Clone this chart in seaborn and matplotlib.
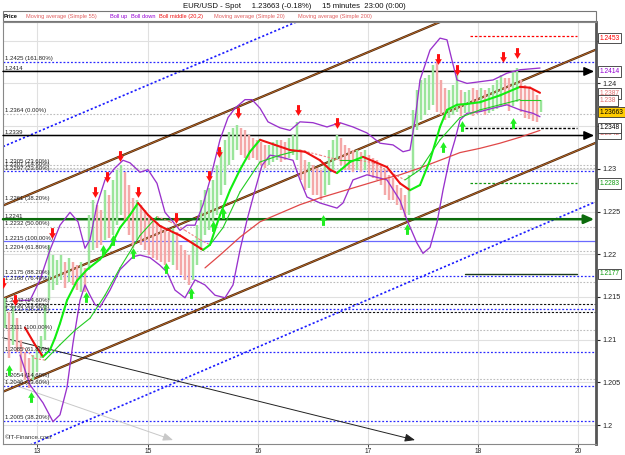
import matplotlib
matplotlib.use("Agg")
import matplotlib.pyplot as plt
import matplotlib.transforms as mtransforms
from matplotlib.path import Path
import seaborn as sns
import pandas as pd

sns.set_theme(style="white")
plt.rcParams['font.family'] = ['Liberation Sans', 'DejaVu Sans']

# ---------------- data (x = bar index, y = EUR/USD price) ----------------
candle_hi = [1.2149, 1.2132, 1.2139, 1.2125, 1.2100, 1.2085, 1.2078, 1.2082, 1.2094, 1.2104,
             1.2141, 1.2211, 1.2199, 1.2193, 1.2199, 1.2191, 1.2196, 1.2191, 1.2187, 1.2191,
             1.2184, 1.2246, 1.2263, 1.2258, 1.2252, 1.2275, 1.2269, 1.2287, 1.2299, 1.2304,
             1.2296, 1.2281, 1.2266, 1.2263, 1.2258, 1.2252, 1.2246, 1.2240, 1.2238, 1.2234,
             1.2231, 1.2226, 1.2231, 1.2226, 1.2211, 1.2205, 1.2199, 1.2217, 1.2234, 1.2263,
             1.2275, 1.2278, 1.2287, 1.2304, 1.2322, 1.2334, 1.2343, 1.2348, 1.2351, 1.2348,
             1.2345, 1.2340, 1.2336, 1.2334, 1.2331, 1.2328, 1.2328, 1.2331, 1.2334, 1.2334,
             1.2331, 1.2336, 1.2340, 1.2355, 1.2322, 1.2310, 1.2308, 1.2304, 1.2301, 1.2299,
             1.2304, 1.2322, 1.2334, 1.2340, 1.2336, 1.2328, 1.2324, 1.2322, 1.2322, 1.2320,
             1.2322, 1.2316, 1.2313, 1.2310, 1.2304, 1.2299, 1.2293, 1.2289, 1.2281, 1.2278,
             1.2269, 1.2293, 1.2369, 1.2392, 1.2404, 1.2406, 1.2410, 1.2422, 1.2425, 1.2404,
             1.2395, 1.2392, 1.2398, 1.2410, 1.2392, 1.2390, 1.2392, 1.2395, 1.2392, 1.2395,
             1.2392, 1.2395, 1.2398, 1.2404, 1.2410, 1.2406, 1.2406, 1.2413, 1.2418, 1.2404,
             1.2398, 1.2395, 1.2392, 1.2386, 1.2381]
candle_lo = [1.2114, 1.2078, 1.2094, 1.2085, 1.2062, 1.2053, 1.2043, 1.2053, 1.2062, 1.2078,
             1.2100, 1.2146, 1.2158, 1.2164, 1.2170, 1.2160, 1.2167, 1.2164, 1.2158, 1.2156,
             1.2156, 1.2182, 1.2205, 1.2207, 1.2211, 1.2217, 1.2219, 1.2222, 1.2234, 1.2246,
             1.2240, 1.2222, 1.2207, 1.2217, 1.2211, 1.2205, 1.2199, 1.2196, 1.2193, 1.2191,
             1.2187, 1.2191, 1.2187, 1.2182, 1.2176, 1.2170, 1.2164, 1.2170, 1.2187, 1.2205,
             1.2222, 1.2228, 1.2238, 1.2246, 1.2269, 1.2281, 1.2304, 1.2310, 1.2322, 1.2316,
             1.2313, 1.2310, 1.2313, 1.2310, 1.2304, 1.2301, 1.2304, 1.2308, 1.2310, 1.2308,
             1.2310, 1.2313, 1.2316, 1.2310, 1.2287, 1.2275, 1.2278, 1.2269, 1.2269, 1.2263,
             1.2269, 1.2281, 1.2299, 1.2310, 1.2304, 1.2299, 1.2299, 1.2296, 1.2299, 1.2296,
             1.2299, 1.2293, 1.2289, 1.2287, 1.2281, 1.2269, 1.2263, 1.2263, 1.2258, 1.2252,
             1.2244, 1.2246, 1.2293, 1.2345, 1.2357, 1.2363, 1.2369, 1.2375, 1.2367, 1.2363,
             1.2357, 1.2360, 1.2363, 1.2367, 1.2362, 1.2365, 1.2366, 1.2362, 1.2364, 1.2366,
             1.2363, 1.2365, 1.2368, 1.2370, 1.2372, 1.2374, 1.2368, 1.2374, 1.2378, 1.2366,
             1.2360, 1.2358, 1.2356, 1.2355, 1.2367]

# Bollinger middle (20) - thick, red when falling / green when rising
mid_x = [5, 7.5, 9.5, 11.25, 12.5, 13.75, 15.5, 18, 20.5, 23.75, 26.25, 28.75, 31.25, 33.25,
         35.75, 38.75, 43.75, 47.5, 49.5, 51.25, 53.75, 56.25, 58.75, 61.25, 63.75, 67.5, 71.25,
         75, 78.75, 81.25, 83, 86.25, 89.5, 92.5, 95.5, 98.75, 101.25, 103.75, 106.25, 108.75,
         110.5, 113, 115.5, 118.75, 123.75, 128.75, 131.25, 133.75]
mid_y = [1.2114, 1.2094, 1.2080, 1.2088, 1.2102, 1.2119, 1.2146, 1.2169, 1.2182, 1.2194, 1.2208,
         1.2231, 1.2246, 1.2260, 1.2246, 1.2233, 1.2222, 1.2211, 1.2205, 1.2211, 1.2246, 1.2275,
         1.2299, 1.2320, 1.2334, 1.2328, 1.2322, 1.2320, 1.2310, 1.2299, 1.2295, 1.2308, 1.2314,
         1.2308, 1.2302, 1.2283, 1.2275, 1.2281, 1.2310, 1.2349, 1.2369, 1.2375, 1.2376, 1.2378,
         1.2386, 1.2396, 1.2395, 1.2389]

# Bollinger up / down (20,2)
up_x = [3.75, 6.25, 8.75, 11.25, 13.75, 16.25, 18.25, 20, 21.25, 23, 25, 27.5, 29.5, 31.25,
        33.75, 35.75, 38, 40, 42, 43.75, 45.5, 47.5, 49.5, 51.25, 53.75, 55.75, 57.5, 60, 61.75,
        63.75, 65.75, 68.75, 71.25, 73.75, 77, 80.5, 83.75, 87, 90.5, 93.75, 97, 99.5, 101.25,
        102.5, 103.75, 106.25, 108.75, 110.5, 111.75, 113, 115.5, 118.75, 122, 125.5, 128.75, 133.75]
up_y = [1.2146, 1.2146, 1.2170, 1.2205, 1.2234, 1.2249, 1.2238, 1.2207, 1.2217, 1.2258, 1.2287,
        1.2301, 1.2310, 1.2307, 1.2296, 1.2299, 1.2283, 1.2249, 1.2238, 1.2228, 1.2234, 1.2234,
        1.2258, 1.2287, 1.2334, 1.2360, 1.2371, 1.2381, 1.2381, 1.2371, 1.2355, 1.2348, 1.2345,
        1.2355, 1.2354, 1.2349, 1.2354, 1.2349, 1.2342, 1.2330, 1.2328, 1.2320, 1.2322, 1.2357,
        1.2404, 1.2439, 1.2453, 1.2451, 1.2427, 1.2404, 1.2400, 1.2402, 1.2404, 1.2412, 1.2416,
        1.2418]
dn_x = [3.75, 6.25, 9.5, 12, 13.75, 15.5, 17, 18.75, 20, 21.25, 22.5, 23.75, 26.25, 28.75, 32,
        33.75, 36.25, 38.75, 40.5, 42.5, 45, 47.5, 50, 52.5, 55, 57, 58.75, 60.5, 62.5, 64.25,
        66.25, 68.75, 72, 73.75, 75.5, 78.75, 83, 84.5, 87, 90.5, 93, 95.5, 98.75, 100.5, 103,
        104.5, 106.25, 108, 109.5, 111.25, 112.5, 113.75, 115.5, 118.75, 122, 125.5, 128.75, 132,
        133.75]
dn_y = [1.2082, 1.2047, 1.2026, 1.2004, 1.2012, 1.2044, 1.2096, 1.2146, 1.2164, 1.2152, 1.2141,
        1.2138, 1.2158, 1.2182, 1.2197, 1.2199, 1.2196, 1.2187, 1.2179, 1.2158, 1.2149, 1.2170,
        1.2164, 1.2152, 1.2149, 1.2164, 1.2205, 1.2240, 1.2275, 1.2304, 1.2316, 1.2314, 1.2310,
        1.2287, 1.2267, 1.2260, 1.2254, 1.2260, 1.2287, 1.2293, 1.2290, 1.2287, 1.2263, 1.2240,
        1.2213, 1.2201, 1.2208, 1.2237, 1.2275, 1.2314, 1.2334, 1.2357, 1.2365, 1.2367, 1.2371,
        1.2375, 1.2369, 1.2365, 1.2361]

# Moving average (Simple 55) - thin, green rising / pink dashed falling
ma55_x = [3.75, 7.5, 10, 13.75, 17.5, 21.25, 25, 28.75, 33.75, 38, 41.25, 45, 48.75, 51.25, 54.5,
          58.75, 63.75, 68.75, 73.75, 78.75, 83.75, 88.75, 92, 96.25, 100, 103.75, 108.75, 113.75,
          118.75, 123.75, 128.75, 133.75]
ma55_y = [1.2094, 1.2078, 1.2076, 1.2094, 1.2111, 1.2125, 1.2152, 1.2184, 1.2222, 1.2244, 1.2238,
          1.2228, 1.2217, 1.2211, 1.2231, 1.2273, 1.2308, 1.2316, 1.2322, 1.2316, 1.2310, 1.2310,
          1.2307, 1.2296, 1.2287, 1.2299, 1.2334, 1.2360, 1.2369, 1.2375, 1.2381, 1.2381]

# Moving average (Simple 200)
ma200_x = [50, 53.75, 58.75, 63.75, 68.75, 73.75, 78.75, 83.75, 88.75, 93.75, 98.75, 103.75,
           108.75, 113.75, 118.75, 123.75, 128.75, 133.75]
ma200_y = [1.2184, 1.2199, 1.2220, 1.2238, 1.2248, 1.2258, 1.2266, 1.2273, 1.2280, 1.2287, 1.2293,
           1.2301, 1.2310, 1.2319, 1.2324, 1.2330, 1.2337, 1.2345]

# signal arrows
sell_x = [-0.4, 2.5, 11.75, 22.5, 25.5, 28.75, 33.25, 42.75, 51, 53.5, 58.25, 73.25, 83, 108.25,
          113, 124.5, 128]
sell_y = [1.2166, 1.2146, 1.2225, 1.2273, 1.2290, 1.2315, 1.2273, 1.2242, 1.2292, 1.2320, 1.2365,
          1.2369, 1.2354, 1.2429, 1.2416, 1.2431, 1.2436]
buy_x = [1, 6.5, 20.25, 24.5, 27, 32, 40.25, 46.5, 52, 54.5, 79.5, 100.5, 109.5, 114.25, 127]
buy_y = [1.2064, 1.2033, 1.2150, 1.2205, 1.2217, 1.2201, 1.2184, 1.2155, 1.2233, 1.2248, 1.2240,
         1.2230, 1.2326, 1.2350, 1.2354]

# horizontal levels (Fibonacci etc.)
lvl_price = [1.2425, 1.2364, 1.2305, 1.2301, 1.2297, 1.2261, 1.2232, 1.2215, 1.2204, 1.2175,
             1.2168, 1.2142, 1.2136, 1.2132, 1.2111, 1.2085, 1.2054, 1.2046, 1.2005]
lvl_text = ["1.2425 (161.80%)", "1.2364 (0.00%)", "1.2305 (23.60%)", "1.2301 (14.60%)",
            "1.2297 (23.60%)", "1.2261 (38.20%)", "1.2232 (50.00%)", "1.2215 (100.00%)",
            "1.2204 (61.80%)", "1.2175 (88.20%)", "1.2168 (76.40%)", "1.2142 (14.60%)",
            "1.2136 (23.60%)", "1.2132 (38.20%)", "1.2111 (100.00%)", "1.2085 (61.80%)",
            "1.2054 (14.60%)", "1.2046 (23.60%)", "1.2005 (38.20%)"]
lvl_kind = ["blue", "grey", "grey", "grey", "blue", "grey", "grey", "bluesolid", "grey", "blue",
            "grey", "black", "blue", "black", "grey", "blue", "grey", "blue", "blue"]
arrow_lvls = [1.2414, 1.2339, 1.2241]

day_ticks = [8, 35.75, 63.25, 90.75, 118.25, 143.25]
day_labels = ["13", "15", "16", "17", "18", "20"]
price_ticks = [1.2, 1.205, 1.21, 1.215, 1.22, 1.225, 1.23, 1.235, 1.24, 1.245]
price_labels = ["1.2", "1.205", "1.21", "1.215", "1.22", "1.225", "1.23", "", "1.24", ""]

# ---------------- figure ----------------
W, H = 625, 455
fig = plt.figure(figsize=(W / 100, H / 100), dpi=100)
fig.patch.set_facecolor("white")
ax = fig.add_axes([3 / W, 11 / H, 593 / W, 422 / H])
XMIN, XMAX = -0.5, 147.75
YMIN, YMAX = 1.19778, 1.24719
ax.set_xlim(XMIN, XMAX)
ax.set_ylim(YMIN, YMAX)

# grid
for t in day_ticks:
    ax.axvline(t, color="#e0e0e0", lw=0.8, zorder=0)
for p in price_ticks:
    ax.axhline(p, color="#e0e0e0", lw=0.8, zorder=0)

# level lines
for p, txt, k in zip(lvl_price, lvl_text, lvl_kind):
    if k == "blue":
        ax.axhline(p, color="#2a2aff", lw=0.9, ls=(0, (1.5, 1.5)), zorder=1)
    elif k == "bluesolid":
        ax.axhline(p, color="#6a6aff", lw=0.9, zorder=1)
    elif k == "black":
        ax.axhline(p, color="#111111", lw=0.8, ls=(0, (2, 1.5)), zorder=1)
    else:
        ax.axhline(p, color="#bcbcbc", lw=0.8, ls=(0, (1.5, 1.5)), zorder=1)
    ax.text(0.0, p + 0.00008, txt, fontsize=4.3, color="#222222", va="bottom", ha="left", zorder=6)

for p, c, lw in zip(arrow_lvls, ["black", "black", "#0b6b0b"], [1.1, 1.1, 1.8]):
    ax.annotate("", xy=(147.3, p), xytext=(XMIN, p),
                arrowprops=dict(arrowstyle="-|>,head_length=0.5,head_width=0.22", color=c, lw=lw,
                                shrinkA=0, shrinkB=0), zorder=3)
    ax.text(0.0, p + 0.00008, f"{p:.4f}", fontsize=4.3, color="#222222", va="bottom", ha="left", zorder=6)

# short target lines on the right
ax.plot([116.25, 143.0], [1.2455, 1.2455], color="red", lw=0.9, ls=(0, (2, 1.5)))
ax.plot([115.0, 143.0], [1.2348, 1.2348], color="black", lw=1.0, ls=(0, (2, 1.2)))
ax.plot([116.25, 143.0], [1.2283, 1.2283], color="#119911", lw=0.9, ls=(0, (2, 1.5)))
ax.plot([115.0, 143.0], [1.2177, 1.2177], color="#1b3b1b", lw=1.0)

# channels
for p0 in [1.2257, 1.2148, 1.2039]:
    ax.plot([XMIN, XMAX], [p0, p0 + 148.25 * 0.0001967], color="#4a2208", lw=1.6, zorder=2,
            solid_capstyle="butt")
    ax.plot([XMIN, XMAX], [p0, p0 + 148.25 * 0.0001967], color="#c0702a", lw=0.6, zorder=2)
ax.plot([XMIN, XMAX], [1.2326, 1.2621], color="#1a1aff", lw=1.2, ls=(0, (1.3, 1.3)), zorder=2)
ax.plot([6.25, 147.5], [1.19766, 1.22611], color="#1a1aff", lw=1.2, ls=(0, (1.3, 1.3)), zorder=2)
ax.annotate("", xy=(102.5, 1.19824), xytext=(XMIN, 1.21022),
            arrowprops=dict(arrowstyle="-|>,head_length=0.5,head_width=0.2", color="#222222", lw=0.7,
                            shrinkA=0, shrinkB=0), zorder=2)
ax.annotate("", xy=(42.0, 1.19824), xytext=(3.75, 1.20445),
            arrowprops=dict(arrowstyle="-|>,head_length=0.5,head_width=0.2", color="#c8c8c8", lw=0.7,
                            shrinkA=0, shrinkB=0), zorder=2)

# candles
bars = pd.DataFrame({"hi": candle_hi, "lo": candle_lo})
bars["x"] = range(len(bars))
mid = (bars["hi"] + bars["lo"]) / 2
bars["up"] = mid.diff().fillna(0) >= 0
ax.vlines(bars["x"], bars["lo"], bars["hi"],
          colors=["#9be59b" if u else "#f4a8a8" for u in bars["up"]], lw=1.75, zorder=3)

# bands and averages
sns.lineplot(x=up_x, y=up_y, ax=ax, color="#9932cc", lw=0.95, sort=False, estimator=None, zorder=4)
sns.lineplot(x=dn_x, y=dn_y, ax=ax, color="#9932cc", lw=0.95, sort=False, estimator=None, zorder=4)
sns.lineplot(x=ma200_x, y=ma200_y, ax=ax, color="#e04848", lw=0.9, sort=False, estimator=None, zorder=4)


def slope_line(xs, ys, up_c, dn_c, lw, up_ls="-", dn_ls="-", z=5):
    for i in range(len(xs) - 1):
        rising = ys[i + 1] >= ys[i]
        ax.plot(xs[i:i + 2], ys[i:i + 2], color=up_c if rising else dn_c,
                ls=up_ls if rising else dn_ls, lw=lw, solid_capstyle="round", zorder=z)


slope_line(ma55_x, ma55_y, "#22cc22", "#f08080", 0.8, dn_ls=(0, (2, 1.5)))
slope_line(mid_x, mid_y, "#11ee11", "#ee1111", 1.5, z=5)

# arrows
down_arrow = Path([(-0.28, 1), (0.28, 1), (0.28, 0.05), (0.62, 0.05), (0, -1), (-0.62, 0.05),
                   (-0.28, 0.05), (-0.28, 1)], closed=True)
up_arrow = Path([(-0.28, -1), (0.28, -1), (0.28, -0.05), (0.62, -0.05), (0, 1), (-0.62, -0.05),
                 (-0.28, -0.05), (-0.28, -1)], closed=True)
sns.scatterplot(x=sell_x, y=sell_y, ax=ax, marker=down_arrow, s=60, color="#ff1010",
                edgecolor="#ff1010", linewidth=0, zorder=7)
sns.scatterplot(x=buy_x, y=buy_y, ax=ax, marker=up_arrow, s=60, color="#22ee22",
                edgecolor="#22ee22", linewidth=0, zorder=7)

# axes styling
ax.set_xticks(day_ticks)
ax.set_xticklabels(day_labels, fontsize=4.8)
ax.yaxis.tick_right()
ax.set_yticks(price_ticks)
ax.set_yticklabels(price_labels, fontsize=5.2)
ax.tick_params(axis="y", direction="out", length=3, width=0.8, pad=1.5, colors="#222222", right=True)
ax.tick_params(axis="x", direction="out", length=2, width=0.6, pad=0.6, colors="#222222", bottom=True)
ax.set_xlabel("")
ax.set_ylabel("")
for side in ["top", "left", "bottom"]:
    ax.spines[side].set_color("#888888")
    ax.spines[side].set_linewidth(0.8)
ax.spines["right"].set_color("#555555")
ax.spines["right"].set_linewidth(2.0)

ax.text(0.004, 0.012, "©IT-Finance.com", transform=ax.transAxes, fontsize=4.5, color="#333333")

# right price boxes
tr = mtransforms.blended_transform_factory(ax.transAxes, ax.transData)
boxes = [(1.2453, "1.2453", "red", "white"), (1.2414, "1.2414", "#9400d3", "white"),
         (1.2388, "1.2387", "#e07070", "white"), (1.2380, "1.238", "#e07070", "white"),
         (1.23663, "1.23663", "black", "#ffcc00"), (1.2348, "1.2348", "black", "white"),
         (1.2341, "1.2342", "#e07070", "white"), (1.2283, "1.2283", "#119911", "white"),
         (1.2177, "1.2177", "#119911", "white")]
order = [0, 1, 2, 6, 3, 5, 4, 7, 8]
for i in order:
    p, t, c, fc = boxes[i]
    ax.text(1.006, p, t, transform=tr, fontsize=4.8, color=c, va="center", ha="left", zorder=10,
            clip_on=False, bbox=dict(boxstyle="square,pad=0.25", fc=fc, ec="#333333", lw=0.6))

# header: title + legend strip
fig.text(294 / W, 1 - 7 / H, "EUR/USD - Spot     1.23663 (-0.18%)     15 minutes  23:00 (0:00)",
         ha="center", va="center", fontsize=5.6, color="#111111")
strip = plt.Rectangle((3 / W, 1 - 21 / H), 593 / W, 9.5 / H, transform=fig.transFigure,
                      fc="white", ec="#777777", lw=0.8)
fig.patches.append(strip)
legend_items = [(4, "Price", "black", "bold"), (26, "Moving average (Simple 55)", "#e06060", "normal"),
                (110, "Boll up", "#9400d3", "normal"), (131, "Boll down", "#9400d3", "normal"),
                (159, "Boll middle (20,2)", "#ee1111", "normal"),
                (214, "Moving average (Simple 20)", "#e06060", "normal"),
                (298, "Moving average (Simple 200)", "#e06060", "normal")]
for xp, t, c, w in legend_items:
    fig.text(xp / W, 1 - 16.5 / H, t, ha="left", va="center", fontsize=4.1, color=c, fontweight=w)

fig.savefig("out.png", dpi=100)
